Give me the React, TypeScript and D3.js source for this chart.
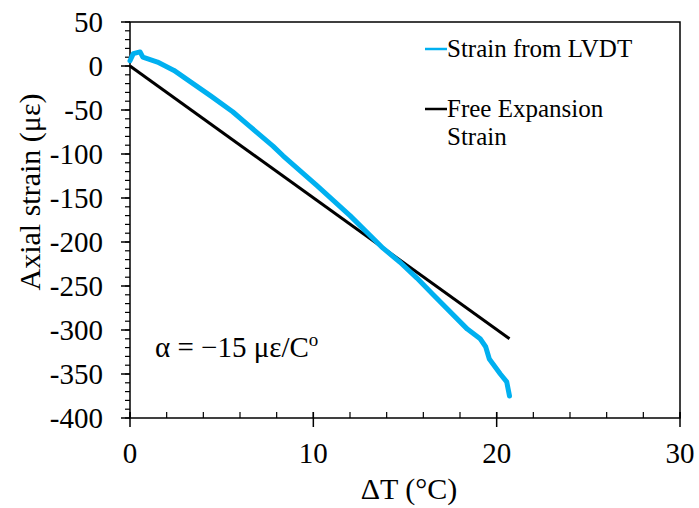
import React from "react";
import * as d3 from "d3";

// values
const lvdtT = [0, 0.18, 0.55, 0.7, 1.5, 2.4, 3.3, 4.4, 5.6, 6.5, 7.8, 8.35, 10.2, 12, 13.8, 14.73, 15.65, 16.5, 18.4, 19.1, 19.4, 19.6, 20.2, 20.55, 20.7];
const lvdtStrain = [6, 14, 16, 10, 4.5, -5, -18, -34, -52, -68, -91, -102, -136, -170, -207, -223, -241, -259, -299, -310, -319, -333, -350, -359, -375];
const freeT = [0, 20.7];
const freeStrain = [0, -310];

const xTicks = [0, 10, 20, 30];
const yTicks = [50, 0, -50, -100, -150, -200, -250, -300, -350, -400];

const W = 699;
const H = 508;
const m = { left: 130, right: 19, top: 22, bottom: 90 };
const font = "Liberation Serif, Times New Roman, serif";

export default function App() {
  const x = d3.scaleLinear().domain([0, 30]).range([m.left, W - m.right]);
  const y = d3.scaleLinear().domain([-400, 50]).range([H - m.bottom, m.top]);

  const lineGen = d3
    .line<[number, number]>()
    .x((d) => x(d[0]))
    .y((d) => y(d[1]));

  const lvdt = lvdtT.map((t, i) => [t, lvdtStrain[i]] as [number, number]);
  const free = freeT.map((t, i) => [t, freeStrain[i]] as [number, number]);

  const xMinor = d3.range(0, 30.01, 2);
  const yMinor = d3.range(-400, 50.01, 10);
  const x0 = x(0);
  const y0 = y(-400);

  return (
    <svg
      width={W}
      height={H}
      style={{ position: "absolute", left: 0, top: 0, display: "block", fontFamily: font }}
    >
      <rect width={W} height={H} fill="#fff" />
      {/* frame */}
      <rect x={x(0)} y={y(50)} width={x(30) - x(0)} height={y(-400) - y(50)} fill="none" stroke="#000" strokeWidth={1.5} />
      {/* y ticks */}
      {yMinor.map((v) => (
        <line key={"ym" + v} x1={x0 - 5} x2={x0} y1={y(v)} y2={y(v)} stroke="#000" strokeWidth={1.2} />
      ))}
      {yTicks.map((v) => (
        <g key={"y" + v}>
          <line x1={x0 - 9} x2={x0} y1={y(v)} y2={y(v)} stroke="#000" strokeWidth={1.5} />
          <text x={x0 - 27} y={y(v) + 10} textAnchor="end" fontSize={29}>
            {v}
          </text>
        </g>
      ))}
      {/* x ticks */}
      {xMinor.map((v) => (
        <line key={"xm" + v} x1={x(v)} x2={x(v)} y1={y0 - 6} y2={y0} stroke="#000" strokeWidth={1.2} />
      ))}
      {xTicks.map((v) => (
        <g key={"x" + v}>
          <line x1={x(v)} x2={x(v)} y1={y0 - 6} y2={y0 + 9} stroke="#000" strokeWidth={1.5} />
          <text x={x(v)} y={y0 + 45} textAnchor="middle" fontSize={29}>
            {v}
          </text>
        </g>
      ))}
      {/* axis titles */}
      <text x={x(15) + 4} y={H - 9} textAnchor="middle" fontSize={30}>
        ΔT (°C)
      </text>
      <text transform={`translate(40, 192) rotate(-90)`} textAnchor="middle" fontSize={30}>
        Axial strain (με)
      </text>
      {/* series */}
      <path d={lineGen(free) || ""} fill="none" stroke="#000" strokeWidth={3} />
      <path d={lineGen(lvdt) || ""} fill="none" stroke="#00b0f0" strokeWidth={5} strokeLinejoin="round" strokeLinecap="round" />
      {/* legend */}
      <line x1={425} x2={447} y1={49} y2={49} stroke="#00b0f0" strokeWidth={2.5} />
      <text x={447} y={57} fontSize={25}>Strain from LVDT</text>
      <line x1={425} x2={447} y1={109} y2={109} stroke="#000" strokeWidth={2.5} />
      <text x={447} y={117} fontSize={25}>Free Expansion</text>
      <text x={447} y={145} fontSize={25}>Strain</text>
      {/* annotation */}
      <text x={155} y={357} fontSize={29}>
        α = −15 με/C<tspan dy={-11} fontSize={19}>o</tspan>
      </text>
    </svg>
  );
}
